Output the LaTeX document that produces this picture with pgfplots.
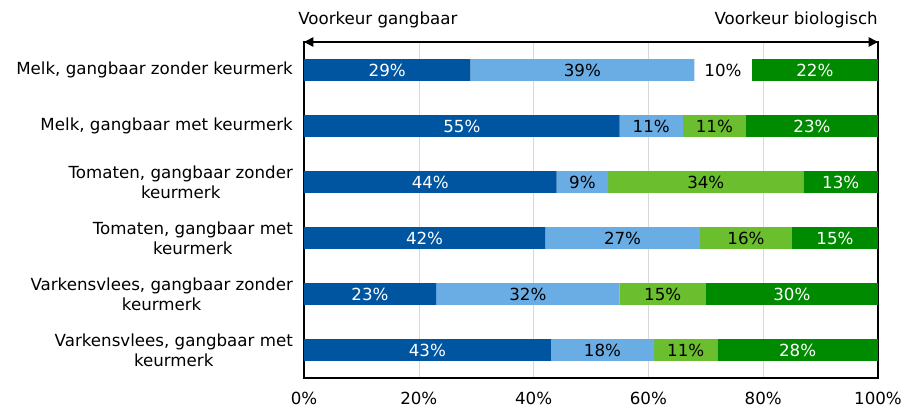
\documentclass[border=0pt]{standalone}
\usepackage{fontspec}
\setmainfont{DejaVu Sans}
\usepackage{pgfplots}
\usepackage{pgfplotstable}
\pgfplotsset{compat=1.18}
\usetikzlibrary{arrows.meta}
\definecolor{dblue}{HTML}{0055A0}
\definecolor{lblue}{HTML}{6AADE4}
\definecolor{lgreen}{HTML}{6BBE2D}
\definecolor{dgreen}{HTML}{008A00}
\pgfplotstableread{
i a b w c d
0 29 39 10 0 22
1 55 11 0 11 23
2 44 9 0 34 13
3 42 27 0 16 15
4 23 32 0 15 30
5 43 18 0 11 28
}\data
\begin{document}
\fontsize{12.5}{15}\selectfont
\begin{tikzpicture}
\begin{axis}[
  xbar stacked,
  scale only axis, width=430.5pt, height=252pt,
  xmin=0, xmax=100, ymin=-0.5, ymax=5.5, y dir=reverse,
  ytick={0,...,5},
  yticklabels={{Melk, gangbaar zonder keurmerk},{Melk, gangbaar met keurmerk},{Tomaten, gangbaar zonder\\keurmerk},{Tomaten, gangbaar met\\keurmerk},{Varkensvlees, gangbaar zonder\\keurmerk},{Varkensvlees, gangbaar met\\keurmerk}},
  yticklabel style={align=center, font=\fontsize{12.5}{15}\selectfont, xshift=-4pt},
  xtick={0,20,...,100},
  xticklabel={\pgfmathprintnumber{\tick}\%},
  xticklabel style={font=\fontsize{12.5}{15}\selectfont, yshift=-6.5pt},
  /pgf/number format/assume math mode=true,
  xmajorgrids, grid style={draw=black!15},
  major tick length=0,
  bar width=0.39,
  point meta=explicit,
  nodes near coords={\pgfmathfloatifflags{\pgfplotspointmeta}{0}{}{\pgfmathprintnumber{\pgfplotspointmeta}\%}},
  every node near coord/.append style={font=\fontsize{12.5}{15}\selectfont},
  axis line style={black, line width=0.8pt},
]
\addplot[fill=dblue, draw=none, every node near coord/.append style={text=white}] table[x=a, y=i, meta=a]{\data};
\addplot[fill=lblue, draw=none, every node near coord/.append style={text=black}] table[x=b, y=i, meta=b]{\data};
\addplot[fill=white, draw=none, every node near coord/.append style={text=black}] table[x=w, y=i, meta=w]{\data};
\addplot[fill=lgreen, draw=none, every node near coord/.append style={text=black}] table[x=c, y=i, meta=c]{\data};
\addplot[fill=dgreen, draw=none, every node near coord/.append style={text=white}] table[x=d, y=i, meta=d]{\data};
\coordinate (sw) at (rel axis cs:0,0);
\coordinate (ne) at (rel axis cs:1,1);
\coordinate (nw) at (rel axis cs:0,1);
\end{axis}
\draw[line width=1.2pt, {Triangle[length=7pt,width=7pt]}-{Triangle[length=7pt,width=7pt]}] (nw) -- (ne);
\node[anchor=base west, inner sep=0pt] at ([shift={(-4.5pt,13pt)}]nw) {Voorkeur gangbaar};
\node[anchor=base east, inner sep=0pt] at ([shift={(0pt,13pt)}]ne) {Voorkeur biologisch};
\pgfresetboundingbox
\path ([shift={(-228pt,-24pt)}]sw) rectangle ([shift={(19.5pt,31.5pt)}]ne);
\end{tikzpicture}
\end{document}
